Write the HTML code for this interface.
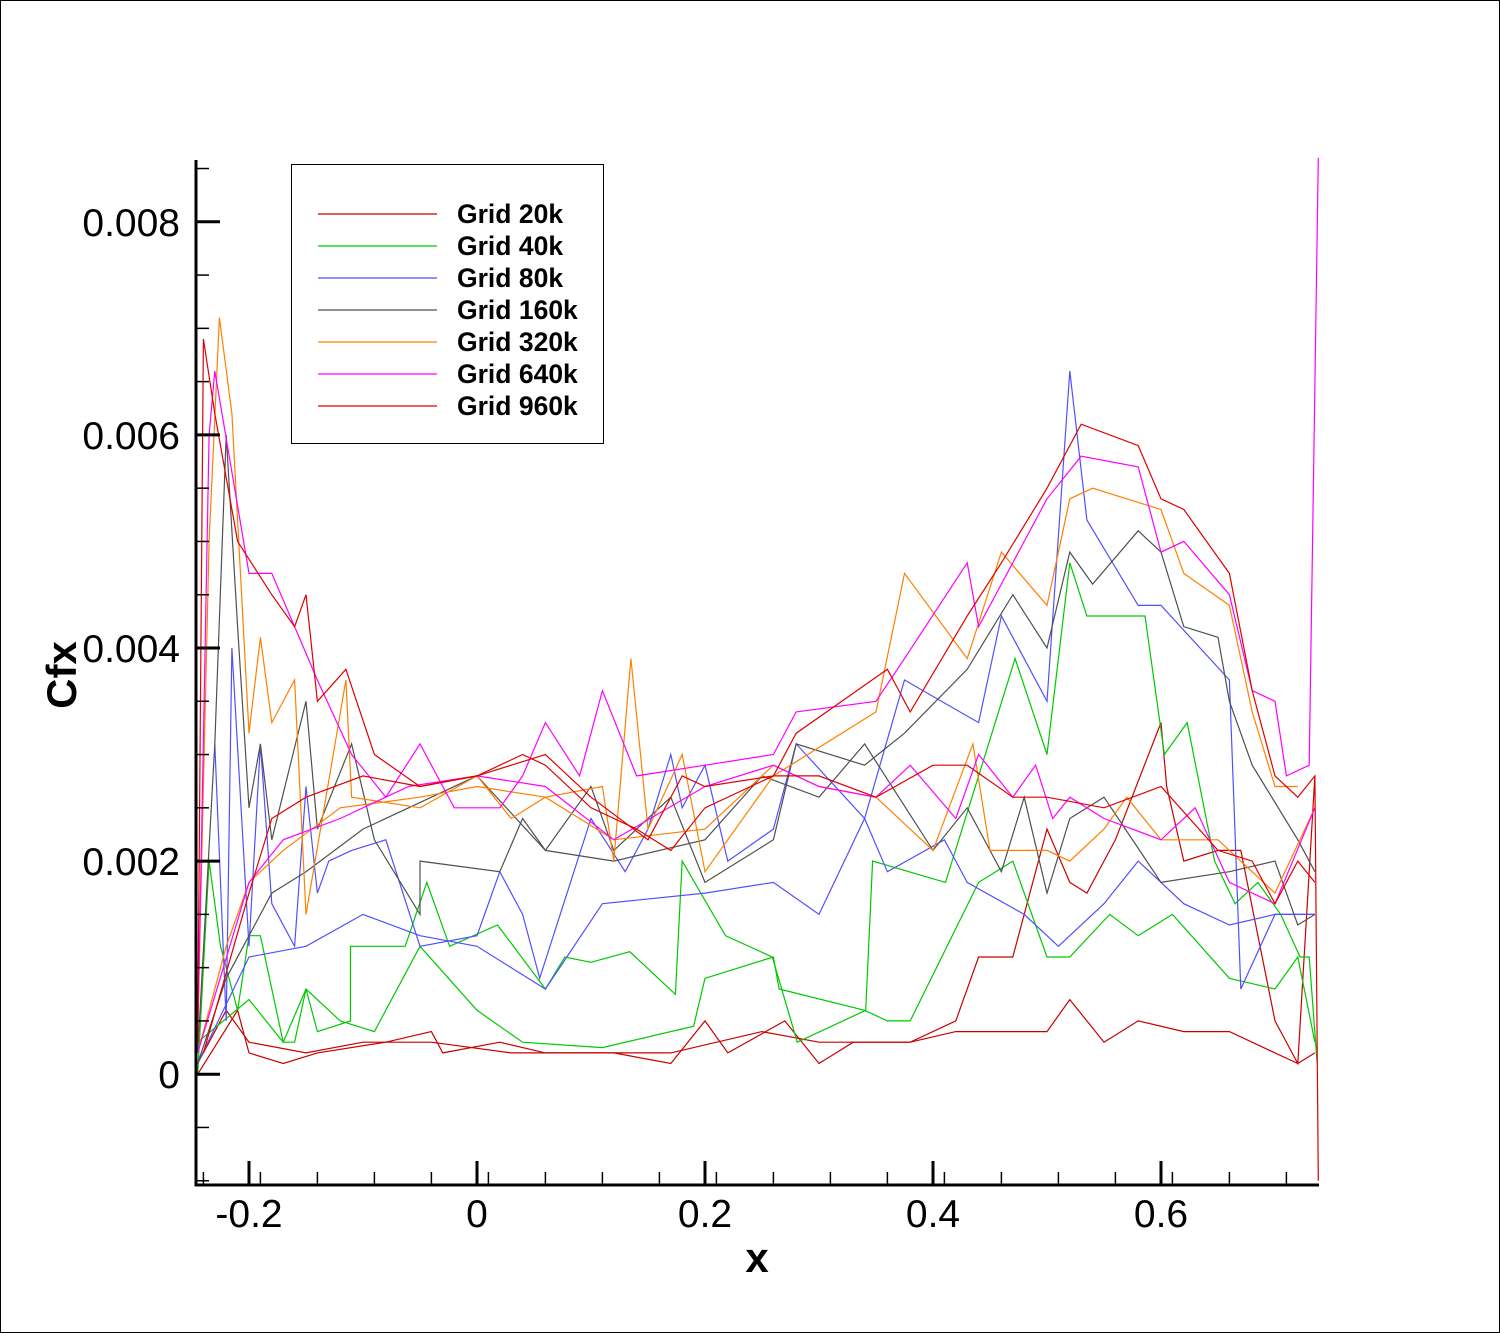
<!DOCTYPE html>
<html><head><meta charset="utf-8"><style>
html,body{margin:0;padding:0;background:#fff;}
svg{display:block;font-family:"Liberation Sans",sans-serif;}
</style></head><body>
<svg id="chart" width="1500" height="1333" viewBox="0 0 1500 1333">
<rect x="0.5" y="0.5" width="1499" height="1332" fill="#fff" stroke="#000" stroke-width="1"/>
<g id="series"></g>
<g id="axes"></g>
<text x="757" y="1272" font-size="42" font-weight="bold" text-anchor="middle">x</text>
<text transform="translate(76,675) rotate(-90)" font-size="42" font-weight="bold" text-anchor="middle">Cfx</text>
<g id="legend">
<rect x="291.5" y="164.5" width="312" height="279" fill="#fff" stroke="#000" stroke-width="1"/>
</g>
</svg>
<script>
const xTicks=[-0.2,0,0.2,0.4,0.6];
const xTickLabels=["-0.2","0","0.2","0.4","0.6"];
const yTicks=[0,0.002,0.004,0.006,0.008];
const yTickLabels=["0","0.002","0.004","0.006","0.008"];
const seriesNames=["Grid 20k","Grid 40k","Grid 80k","Grid 160k","Grid 320k","Grid 640k","Grid 960k"];
const seriesColors=["#c80000","#00c800","#5050ff","#505050","#ff8000","#ff00ff","#e00000"];
const g20kUpper=[[-0.245,0.0001],[-0.22,0.0006],[-0.2,0.0003],[-0.15,0.0002],[-0.1,0.0003],[-0.04,0.0003],[0.03,0.0002],[0.1,0.0002],[0.17,0.0002],[0.25,0.0004],[0.3,0.0003],[0.38,0.0003],[0.42,0.0005],[0.44,0.0011],[0.47,0.0011],[0.5,0.0023],[0.52,0.0018],[0.535,0.0017],[0.56,0.0022],[0.6,0.0033],[0.605,0.0027],[0.62,0.002],[0.65,0.0021],[0.67,0.0021],[0.7,0.0005],[0.72,0.0001],[0.735,0.0028]];
const g20kLower=[[-0.245,0.0],[-0.21,0.0006],[-0.2,0.0002],[-0.17,0.0001],[-0.14,0.0002],[-0.08,0.0003],[-0.04,0.0004],[-0.03,0.0002],[0.02,0.0003],[0.06,0.0002],[0.12,0.0002],[0.17,0.0001],[0.2,0.0005],[0.22,0.0002],[0.27,0.0005],[0.3,0.0001],[0.33,0.0003],[0.38,0.0003],[0.42,0.0004],[0.5,0.0004],[0.52,0.0007],[0.55,0.0003],[0.58,0.0005],[0.62,0.0004],[0.66,0.0004],[0.7,0.0002],[0.72,0.0001],[0.735,0.0002]];
const g40kUpper=[[-0.245,0.0],[-0.235,0.002],[-0.225,0.0012],[-0.21,0.0006],[-0.2,0.0013],[-0.19,0.0013],[-0.17,0.0003],[-0.16,0.0003],[-0.15,0.0008],[-0.14,0.0004],[-0.111,0.0005],[-0.111,0.0012],[-0.063,0.0012],[-0.044,0.0018],[-0.024,0.0012],[0.018,0.0014],[0.06,0.0008],[0.077,0.0011],[0.1,0.00105],[0.134,0.00115],[0.174,0.00075],[0.18,0.002],[0.218,0.0013],[0.259,0.0011],[0.281,0.0003],[0.341,0.0006],[0.347,0.002],[0.411,0.0018],[0.472,0.0039],[0.5,0.003],[0.52,0.0048],[0.535,0.0043],[0.586,0.0043],[0.603,0.003],[0.623,0.0033],[0.647,0.002],[0.665,0.0016],[0.685,0.0018],[0.705,0.0015],[0.722,0.0011],[0.73,0.0011],[0.737,0.0001]];
const g40kLower=[[-0.245,0.0003],[-0.2,0.0007],[-0.17,0.0003],[-0.15,0.0008],[-0.12,0.0005],[-0.09,0.0004],[-0.05,0.0012],[0.0,0.0006],[0.04,0.0003],[0.11,0.00025],[0.19,0.00045],[0.2,0.0009],[0.26,0.0011],[0.265,0.0008],[0.34,0.0006],[0.36,0.0005],[0.38,0.0005],[0.44,0.0018],[0.47,0.002],[0.5,0.0011],[0.52,0.0011],[0.555,0.0015],[0.58,0.0013],[0.61,0.0015],[0.66,0.0009],[0.7,0.0008],[0.72,0.0011],[0.735,0.0003]];
const g80kUpper=[[-0.23,0.0031],[-0.22,0.0005],[-0.215,0.004],[-0.2,0.0012],[-0.19,0.0031],[-0.18,0.0016],[-0.16,0.0012],[-0.15,0.0027],[-0.14,0.0017],[-0.13,0.002],[-0.11,0.0021],[-0.08,0.0022],[-0.05,0.0012],[0.0,0.0013],[0.02,0.0019],[0.04,0.0015],[0.055,0.0009],[0.1,0.0024],[0.13,0.0019],[0.15,0.0023],[0.17,0.003],[0.18,0.0025],[0.2,0.0029],[0.22,0.002],[0.26,0.0023],[0.28,0.0031],[0.34,0.0024],[0.375,0.0037],[0.44,0.0033],[0.46,0.0043],[0.5,0.0035],[0.52,0.0066],[0.535,0.0052],[0.58,0.0044],[0.6,0.0044],[0.66,0.0037],[0.67,0.0008],[0.7,0.0015],[0.735,0.0015]];
const g80kLower=[[-0.245,0.0001],[-0.2,0.0011],[-0.15,0.0012],[-0.1,0.0015],[-0.05,0.0013],[0.0,0.0012],[0.06,0.0008],[0.11,0.0016],[0.2,0.0017],[0.26,0.0018],[0.3,0.0015],[0.34,0.0024],[0.36,0.0019],[0.41,0.0022],[0.43,0.0018],[0.48,0.0015],[0.51,0.0012],[0.55,0.0016],[0.58,0.002],[0.62,0.0016],[0.66,0.0014],[0.7,0.0015],[0.735,0.0015]];
const g160kUpper=[[-0.245,0.0002],[-0.23,0.0031],[-0.22,0.006],[-0.21,0.0042],[-0.2,0.0025],[-0.19,0.0031],[-0.18,0.0022],[-0.15,0.0035],[-0.14,0.0023],[-0.11,0.0031],[-0.09,0.0022],[-0.05,0.0015],[-0.05,0.002],[0.02,0.0019],[0.04,0.0024],[0.06,0.0021],[0.1,0.0027],[0.12,0.0021],[0.17,0.0026],[0.2,0.0018],[0.26,0.0022],[0.28,0.0031],[0.34,0.0029],[0.375,0.0032],[0.43,0.0038],[0.47,0.0045],[0.5,0.004],[0.52,0.0049],[0.54,0.0046],[0.58,0.0051],[0.6,0.0049],[0.62,0.0042],[0.65,0.0041],[0.66,0.0035],[0.68,0.0029],[0.72,0.0022],[0.735,0.0019]];
const g160kLower=[[-0.245,0.0001],[-0.22,0.0009],[-0.2,0.0013],[-0.18,0.0017],[-0.15,0.0019],[-0.1,0.0023],[-0.04,0.0026],[0.0,0.0028],[0.06,0.0021],[0.12,0.002],[0.2,0.0022],[0.25,0.0028],[0.3,0.0026],[0.34,0.0031],[0.4,0.0021],[0.43,0.0025],[0.46,0.0019],[0.48,0.0026],[0.5,0.0017],[0.52,0.0024],[0.55,0.0026],[0.6,0.0018],[0.66,0.0019],[0.7,0.002],[0.72,0.0014],[0.735,0.0015]];
const g320kUpper=[[-0.245,0.0004],[-0.235,0.005],[-0.226,0.0071],[-0.215,0.0062],[-0.2,0.0032],[-0.19,0.0041],[-0.18,0.0033],[-0.16,0.0037],[-0.15,0.0015],[-0.115,0.0037],[-0.11,0.0026],[-0.05,0.0025],[0.0,0.0028],[0.03,0.0024],[0.06,0.0026],[0.11,0.0027],[0.12,0.002],[0.135,0.0039],[0.15,0.0023],[0.18,0.003],[0.2,0.0019],[0.26,0.0028],[0.35,0.0034],[0.375,0.0047],[0.43,0.0039],[0.46,0.0049],[0.5,0.0044],[0.52,0.0054],[0.54,0.0055],[0.6,0.0053],[0.62,0.0047],[0.66,0.0044],[0.68,0.0034],[0.7,0.0027],[0.72,0.0027]];
const g320kLower=[[-0.245,0.0002],[-0.22,0.0012],[-0.2,0.0018],[-0.17,0.0021],[-0.12,0.0025],[-0.05,0.0026],[0.0,0.0027],[0.06,0.0026],[0.12,0.0022],[0.2,0.0023],[0.26,0.0029],[0.3,0.0027],[0.35,0.0026],[0.4,0.0021],[0.435,0.0031],[0.45,0.0021],[0.5,0.0021],[0.52,0.002],[0.55,0.0023],[0.57,0.0026],[0.6,0.0022],[0.65,0.0022],[0.7,0.0017],[0.735,0.0025]];
const g640kUpper=[[-0.245,0.0003],[-0.235,0.006],[-0.23,0.0066],[-0.2,0.0047],[-0.18,0.0047],[-0.14,0.0037],[-0.11,0.003],[-0.08,0.0026],[-0.05,0.0031],[-0.02,0.0025],[0.02,0.0025],[0.04,0.0028],[0.06,0.0033],[0.09,0.0028],[0.11,0.0036],[0.14,0.0028],[0.2,0.0029],[0.26,0.003],[0.28,0.0034],[0.35,0.0035],[0.375,0.0039],[0.43,0.0048],[0.44,0.0042],[0.5,0.0054],[0.53,0.0058],[0.58,0.0057],[0.6,0.0049],[0.62,0.005],[0.66,0.0045],[0.68,0.0036],[0.7,0.0035],[0.71,0.0028],[0.73,0.0029],[0.738,0.0086]];
const g640kLower=[[-0.245,0.0002],[-0.2,0.0018],[-0.17,0.0022],[-0.12,0.0024],[-0.06,0.0027],[0.0,0.0028],[0.06,0.0027],[0.12,0.0022],[0.2,0.0027],[0.26,0.0029],[0.3,0.0027],[0.35,0.0026],[0.38,0.0029],[0.42,0.0024],[0.44,0.003],[0.47,0.0026],[0.49,0.0029],[0.505,0.0024],[0.52,0.0026],[0.55,0.0024],[0.6,0.0022],[0.63,0.0025],[0.66,0.0018],[0.7,0.0016],[0.735,0.0025]];
const g960kUpper=[[-0.245,0.0003],[-0.24,0.0069],[-0.23,0.0062],[-0.21,0.005],[-0.18,0.0045],[-0.16,0.0042],[-0.15,0.0045],[-0.14,0.0035],[-0.115,0.0038],[-0.09,0.003],[-0.05,0.0027],[0.0,0.0028],[0.04,0.003],[0.06,0.0029],[0.1,0.0025],[0.14,0.0023],[0.17,0.0021],[0.2,0.0025],[0.26,0.0028],[0.28,0.0032],[0.36,0.0038],[0.38,0.0034],[0.43,0.0043],[0.46,0.0048],[0.5,0.0055],[0.53,0.0061],[0.58,0.0059],[0.6,0.0054],[0.62,0.0053],[0.66,0.0047],[0.68,0.0036],[0.7,0.0028],[0.72,0.0026],[0.735,0.0028],[0.738,-0.001]];
const g960kLower=[[-0.24,0.0002],[-0.2,0.0017],[-0.18,0.0024],[-0.15,0.0026],[-0.1,0.0028],[-0.05,0.0027],[0.0,0.0028],[0.06,0.003],[0.1,0.0026],[0.15,0.0022],[0.18,0.0028],[0.2,0.0027],[0.26,0.0028],[0.3,0.0028],[0.35,0.0026],[0.4,0.0029],[0.43,0.0029],[0.47,0.0026],[0.5,0.0026],[0.55,0.0025],[0.6,0.0027],[0.65,0.0021],[0.68,0.002],[0.7,0.0016],[0.72,0.002],[0.735,0.0018]];
const seriesData=[[g20kUpper,g20kLower],[g40kUpper,g40kLower],[g80kUpper,g80kLower],[g160kUpper,g160kLower],[g320kUpper,g320kLower],[g640kUpper,g640kLower],[g960kUpper,g960kLower]];

const NS="http://www.w3.org/2000/svg";
const L=196,R=1319,T=160,B=1185;
const X0=-0.24649,X1=0.73860,Y0=-0.00104,Y1=0.00858;
function sx(v){return L+(v-X0)/(X1-X0)*(R-L);}
function sy(v){return B-(v-Y0)/(Y1-Y0)*(B-T);}
function mk(tag,attrs,parent){const e=document.createElementNS(NS,tag);for(const k in attrs)e.setAttribute(k,attrs[k]);parent.appendChild(e);return e;}

const sg=document.getElementById('series');
seriesData.forEach((pair,i)=>{
  pair.forEach((pts,j)=>{
    const d=pts.map((p,k)=>(k?'L':'M')+sx(p[0]).toFixed(1)+' '+sy(p[1]).toFixed(1)).join(' ');
    const p=mk('path',{d:d,fill:'none',stroke:seriesColors[i],'stroke-width':1.2},sg);
    
    
  });
});

const ax=document.getElementById('axes');
const sp1=mk('line',{x1:L,y1:T,x2:L,y2:B+1.5,stroke:'#000','stroke-width':3},ax);


const sp2=mk('line',{x1:L-1.5,y1:B,x2:R,y2:B,stroke:'#000','stroke-width':3},ax);


xTicks.forEach((v,i)=>{
  const t=mk('line',{x1:sx(v),y1:B,x2:sx(v),y2:B-24,stroke:'#000','stroke-width':3},ax);
  
  
  const tx=mk('text',{x:sx(v),y:1227,'font-size':39,'text-anchor':'middle'},ax);
  tx.textContent=xTickLabels[i];
  
  
});
for(let v=-0.24;v<0.74;v+=0.05){
  const vv=Math.round(v*100)/100;
  if(Math.abs(vv*10-Math.round(vv*10))<1e-6 && Math.round(vv*10)%2===0) continue;
  const t=mk('line',{x1:sx(vv),y1:B,x2:sx(vv),y2:B-13,stroke:'#000','stroke-width':1.5},ax);
  
  
}
yTicks.forEach((v,i)=>{
  const t=mk('line',{x1:L,y1:sy(v),x2:L+24,y2:sy(v),stroke:'#000','stroke-width':3},ax);
  
  
  const tx=mk('text',{x:180,y:sy(v)+14,'font-size':39,'text-anchor':'end'},ax);
  tx.textContent=yTickLabels[i];
  
  
});
for(let k=-2;k<=17;k++){
  const v=k*0.0005;
  if(k%4===0) continue;
  if(v<Y0||v>Y1) continue;
  const t=mk('line',{x1:L,y1:sy(v),x2:L+13,y2:sy(v),stroke:'#000','stroke-width':1.5},ax);
  
  
}

const lg=document.getElementById('legend');
seriesNames.forEach((n,i)=>{
  const y=214+i*32;
  const l=mk('line',{x1:318,y1:y,x2:437,y2:y,stroke:seriesColors[i],'stroke-width':1.2},lg);
  
  
  const t=mk('text',{x:457,y:y+9,'font-size':26.5,'font-weight':'bold'},lg);
  t.textContent=n;
  
  
});
</script>
</body></html>
